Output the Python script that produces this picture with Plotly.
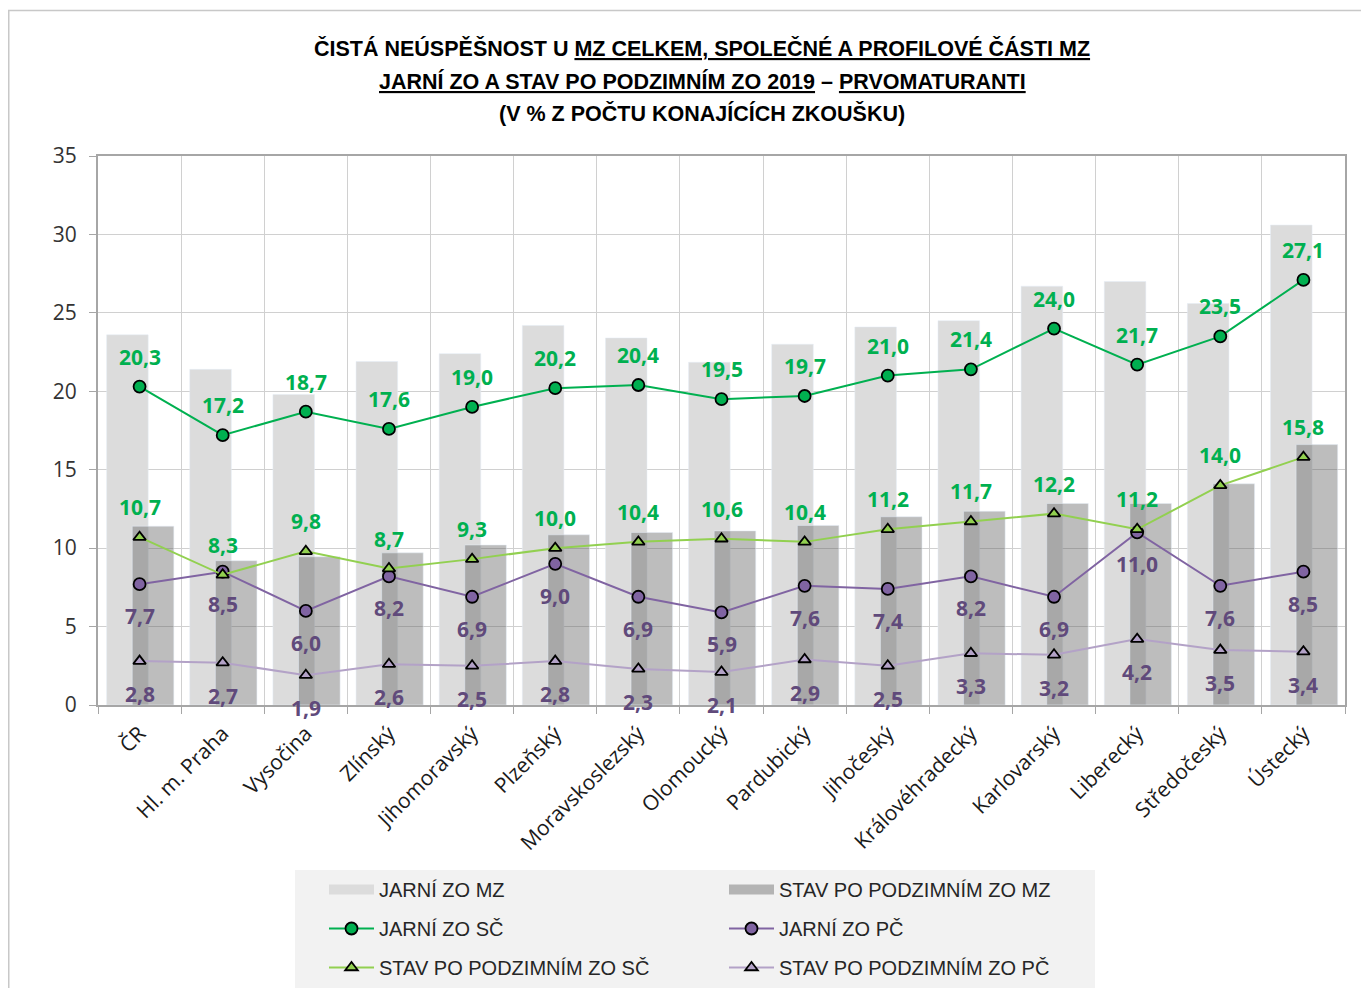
import plotly.graph_objects as go

regions = ["ČR", "Hl. m. Praha", "Vysočina", "Zlínský", "Jihomoravský", "Plzeňský",
           "Moravskoslezský", "Olomoucký", "Pardubický", "Jihočeský", "Královéhradecký",
           "Karlovarský", "Liberecký", "Středočeský", "Ústecký"]

jarni_mz = [23.6, 21.4, 19.8, 21.9, 22.4, 24.2, 23.4, 21.85, 23.0, 24.1, 24.5, 26.7, 27.0, 25.6, 30.6]
stav_mz = [11.4, 9.2, 9.45, 9.7, 10.2, 10.85, 11.0, 11.1, 11.45, 12.0, 12.35, 12.85, 12.85, 14.1, 16.6]
jarni_sc = [20.3, 17.2, 18.7, 17.6, 19.0, 20.2, 20.4, 19.5, 19.7, 21.0, 21.4, 24.0, 21.7, 23.5, 27.1]
stav_sc = [10.7, 8.3, 9.8, 8.7, 9.3, 10.0, 10.4, 10.6, 10.4, 11.2, 11.7, 12.2, 11.2, 14.0, 15.8]
jarni_pc = [7.7, 8.5, 6.0, 8.2, 6.9, 9.0, 6.9, 5.9, 7.6, 7.4, 8.2, 6.9, 11.0, 7.6, 8.5]
stav_pc = [2.8, 2.7, 1.9, 2.6, 2.5, 2.8, 2.3, 2.1, 2.9, 2.5, 3.3, 3.2, 4.2, 3.5, 3.4]

title_lines = [
    "<b>ČISTÁ NEÚSPĚŠNOST U <u>MZ CELKEM, SPOLEČNÉ A PROFILOVÉ ČÁSTI MZ</u></b>",
    "<b><u>JARNÍ ZO A STAV PO PODZIMNÍM ZO 2019</u> – <u>PRVOMATURANTI</u></b>",
    "<b>(V % Z POČTU KONAJÍCÍCH ZKOUŠKU)</b>",
]

TFONT = "Liberation Sans, Arial, sans-serif"
REG = "Open Sans, Liberation Sans, sans-serif"

GREEN = "#00b050"
LGREEN = "#92d050"
PURPLE = "#8064a2"
LPURPLE = "#b3a2c7"
PURPLE_TXT = "#604a7b"
LIGHT_BAR = "#dcdcdc"
DARK_BAR = "rgba(90,90,90,0.4)"

# plot area in figure pixels
L, T, R, B = 90, 148, 1337, 697
W, H = R - L, B - T


def px(xp):
    return (xp - L) / W


def py(yp):
    return (B - yp) / H


fig = go.Figure()

fig.add_trace(go.Bar(x=regions, y=jarni_mz, name="JARNÍ ZO MZ", marker_color=LIGHT_BAR,
                     offset=-0.396, width=0.50, showlegend=False))
fig.add_trace(go.Bar(x=regions, y=stav_mz, name="STAV PO PODZIMNÍM ZO MZ",
                     marker_color=DARK_BAR, offset=-0.088, width=0.50, showlegend=False))

# legend-only swatches for the bar series (wide rectangles like the original)
fig.add_trace(go.Scatter(x=[None], y=[None], mode="lines", name="JARNÍ ZO MZ",
                         line=dict(color=LIGHT_BAR, width=14), legend="legend", legendgroup="a"))
fig.add_trace(go.Scatter(x=[None], y=[None], mode="lines", name="STAV PO PODZIMNÍM ZO MZ",
                         line=dict(color="#b4b4b4", width=14), legend="legend2", legendgroup="b"))


def line(vals, name, lc, mfill, symbol, size, leg, grp):
    return go.Scatter(x=regions, y=vals, name=name, mode="lines+markers",
                      line=dict(color=lc, width=2),
                      marker=dict(symbol=symbol, size=size, color=mfill,
                                  line=dict(color="black", width=1.8)),
                      legend=leg, legendgroup=grp)


fig.add_trace(line(jarni_pc, "JARNÍ ZO PČ", PURPLE, PURPLE, "circle", 12, "legend2", "d"))
fig.add_trace(line(stav_pc, "STAV PO PODZIMNÍM ZO PČ", LPURPLE, LPURPLE, "triangle-up", 11, "legend2", "f"))
fig.add_trace(line(jarni_sc, "JARNÍ ZO SČ", GREEN, GREEN, "circle", 12, "legend", "c"))
fig.add_trace(line(stav_sc, "STAV PO PODZIMNÍM ZO SČ", LGREEN, LGREEN, "triangle-up", 11, "legend", "e"))


def fmt(v):
    return f"{v:.1f}".replace(".", ",")


anns = []
for vals, col, shift in [(jarni_sc, GREEN, 30), (stav_sc, GREEN, 30),
                         (jarni_pc, PURPLE_TXT, -32), (stav_pc, PURPLE_TXT, -33)]:
    for r, v in zip(regions, vals):
        anns.append(dict(x=r, y=v, text=f"<b>{fmt(v)}</b>", showarrow=False, yshift=shift,
                         font=dict(family=REG, size=21, color=col)))

for t, yc in zip(title_lines, [40, 73, 105]):
    anns.append(dict(xref="paper", yref="paper", x=px(694), y=py(yc), xanchor="center",
                     yanchor="middle", text=t, showarrow=False,
                     font=dict(family=TFONT, size=21.5, color="black")))

legend_common = dict(xanchor="left", y=py(862), yanchor="top", bgcolor="rgba(0,0,0,0)",
                     font=dict(family=TFONT, size=20, color="#262626"),
                     tracegroupgap=10, traceorder="grouped", itemwidth=45)

fig.update_layout(
    width=1369, height=988,
    margin=dict(l=L, r=1369 - R, t=T, b=988 - B, autoexpand=False),
    paper_bgcolor="white", plot_bgcolor="white",
    barmode="overlay",
    annotations=anns,
    showlegend=True,
    legend=dict(x=px(316), **legend_common),
    legend2=dict(x=px(716), **legend_common),
    shapes=[
        dict(type="rect", xref="paper", yref="paper", x0=px(287), x1=px(1087),
             y0=py(1000), y1=py(862), fillcolor="#f2f2f2",
             line=dict(width=0), layer="below"),
        dict(type="rect", xref="paper", yref="paper", x0=px(0.75), x1=px(1380),
             y0=py(1000), y1=py(2.5), fillcolor="rgba(0,0,0,0)",
             line=dict(width=1.5, color="#c8c8c8"), layer="below"),
    ],
    xaxis=dict(type="category", tickson="boundaries", showgrid=True, gridcolor="#d0d0d0",
               gridwidth=1, showline=True, linecolor="#a6a6a6", linewidth=2, mirror=True,
               ticks="outside", ticklen=7, tickcolor="#a6a6a6", tickangle=-45,
               ticklabelstandoff=6,
               tickfont=dict(family=REG, size=21, color="#1a1a1a"),
               range=[-0.5, 14.5]),
    yaxis=dict(range=[0, 35], dtick=5, showgrid=True, gridcolor="#d0d0d0", gridwidth=1,
               showline=True, linecolor="#a6a6a6", linewidth=2, mirror=True,
               ticks="outside", ticklen=7, tickcolor="#a6a6a6", zeroline=False,
               ticklabelstandoff=8,
               tickfont=dict(family=REG, size=21, color="#333333")),
)

fig.write_html("out.html")
